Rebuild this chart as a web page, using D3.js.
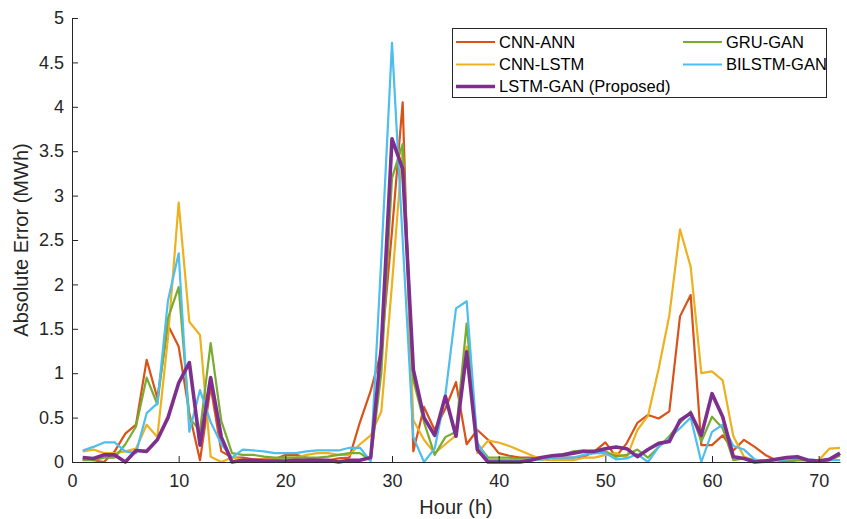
<!DOCTYPE html>
<html>
<head>
<meta charset="utf-8">
<script src="https://cdn.jsdelivr.net/npm/d3@7"></script>
<style>
  html, body { margin: 0; padding: 0; background: #fff; }
  svg { display: block; font-family: "Liberation Sans", Arial, Helvetica, sans-serif; }
</style>
</head>
<body>
<svg id="chart" width="847" height="519"></svg>
<script>
// Hourly absolute forecast error (MWh) for each model, hours 1..72
const hours = d3.range(1, 73);

const cnnAnn = [
  0.03, 0.02, 0.00, 0.12, 0.32, 0.42, 1.15, 0.72, 1.54, 1.30,
  0.55, 0.02, 0.85, 0.12, 0.05, 0.05, 0.03, 0.03, 0.03, 0.08,
  0.08, 0.05, 0.03, 0.02, 0.04, 0.05, 0.45, 0.80, 1.25, 2.60,
  4.05, 0.12, 0.62, 0.36, 0.60, 0.90, 0.20, 0.36, 0.25, 0.10,
  0.07, 0.05, 0.05, 0.05, 0.05, 0.05, 0.05, 0.06, 0.12, 0.22,
  0.06, 0.21, 0.44, 0.53, 0.49, 0.57, 1.64, 1.88, 0.19, 0.19,
  0.30, 0.13, 0.25, 0.17, 0.08, 0.02, 0.00, 0.02, 0.02, 0.00,
  0.02, 0.09
];

const cnnLstm = [
  0.12, 0.14, 0.10, 0.10, 0.12, 0.15, 0.42, 0.28, 1.40, 2.92,
  1.58, 1.43, 0.06, 0.00, 0.05, 0.03, 0.02, 0.02, 0.03, 0.05,
  0.05, 0.08, 0.10, 0.10, 0.08, 0.08, 0.20, 0.30, 0.57, 2.00,
  3.55, 0.47, 0.25, 0.10, 0.20, 0.30, 1.30, 0.10, 0.24, 0.22,
  0.18, 0.13, 0.08, 0.03, 0.02, 0.02, 0.02, 0.05, 0.05, 0.08,
  0.10, 0.05, 0.36, 0.52, 1.05, 1.65, 2.62, 2.20, 1.00, 1.02,
  0.92, 0.29, 0.06, 0.02, 0.02, 0.02, 0.02, 0.02, 0.02, 0.02,
  0.15, 0.16
];

const gruGan = [
  0.02, 0.02, 0.05, 0.05, 0.20, 0.40, 0.95, 0.65, 1.62, 1.97,
  0.50, 0.35, 1.34, 0.46, 0.10, 0.08, 0.08, 0.06, 0.05, 0.05,
  0.05, 0.05, 0.05, 0.06, 0.08, 0.10, 0.10, 0.02, 1.00, 3.20,
  3.58, 0.92, 0.45, 0.08, 0.28, 0.34, 1.56, 0.20, 0.05, 0.05,
  0.05, 0.03, 0.03, 0.03, 0.05, 0.08, 0.12, 0.13, 0.10, 0.12,
  0.06, 0.08, 0.14, 0.05, 0.17, 0.29, 0.44, 0.57, 0.23, 0.51,
  0.38, 0.02, 0.04, 0.02, 0.02, 0.02, 0.02, 0.02, 0.02, 0.01,
  0.02, 0.07
];

const bilstmGan = [
  0.13, 0.17, 0.22, 0.22, 0.12, 0.10, 0.55, 0.66, 1.82, 2.35,
  0.34, 0.81, 0.45, 0.20, 0.05, 0.14, 0.13, 0.12, 0.10, 0.10,
  0.10, 0.12, 0.13, 0.13, 0.13, 0.16, 0.16, 0.01, 2.30, 4.72,
  2.50, 0.28, 0.00, 0.15, 0.75, 1.73, 1.81, 0.22, 0.02, 0.02,
  0.02, 0.02, 0.03, 0.03, 0.05, 0.05, 0.05, 0.08, 0.10, 0.10,
  0.03, 0.04, 0.09, 0.00, 0.17, 0.27, 0.38, 0.50, 0.00, 0.34,
  0.42, 0.18, 0.14, 0.03, 0.00, 0.02, 0.03, 0.05, 0.03, 0.02,
  0.02, 0.02
];

const lstmGan = [
  0.05, 0.04, 0.08, 0.08, 0.00, 0.13, 0.12, 0.25, 0.50, 0.89,
  1.12, 0.19, 0.95, 0.28, 0.00, 0.02, 0.02, 0.01, 0.01, 0.01,
  0.02, 0.02, 0.02, 0.02, 0.00, 0.02, 0.02, 0.05, 1.30, 3.64,
  3.30, 1.04, 0.50, 0.30, 0.74, 0.29, 1.24, 0.14, 0.00, 0.00,
  0.00, 0.00, 0.02, 0.05, 0.07, 0.08, 0.10, 0.12, 0.12, 0.15,
  0.17, 0.15, 0.06, 0.14, 0.21, 0.23, 0.47, 0.55, 0.30, 0.77,
  0.51, 0.06, 0.04, 0.00, 0.01, 0.03, 0.05, 0.06, 0.02, 0.01,
  0.03, 0.10
];

const xTicks = [0, 10, 20, 30, 40, 50, 60, 70];
const yTicks = [0, 0.5, 1, 1.5, 2, 2.5, 3, 3.5, 4, 4.5, 5];

// Drawing order: thin lines first, the proposed model on top
const series = [
  { name: "CNN-ANN", values: cnnAnn, color: "#D95319", width: 2.2 },
  { name: "CNN-LSTM", values: cnnLstm, color: "#EDB120", width: 2.2 },
  { name: "GRU-GAN", values: gruGan, color: "#77AC30", width: 2.2 },
  { name: "BILSTM-GAN", values: bilstmGan, color: "#4DBEEE", width: 2.2 },
  { name: "LSTM-GAN (Proposed)", values: lstmGan, color: "#7E2F8E", width: 3.6 }
];

const svg = d3.select("#chart");
const margin = { left: 72, right: 7, top: 18, bottom: 57 };
const W = 847, H = 519;

const x = d3.scaleLinear().domain([0, 72]).range([margin.left, W - margin.right]);
const y = d3.scaleLinear().domain([0, 5]).range([H - margin.bottom, margin.top]);

const axisColor = "#262626";

// Series lines
const line = d3.line()
  .x((d, i) => x(hours[i]))
  .y(d => y(d));

const plot = svg.append("g");
series.forEach(s => {
  plot.append("path")
    .datum(s.values)
    .attr("fill", "none")
    .attr("stroke", s.color)
    .attr("stroke-width", s.width)
    .attr("stroke-linejoin", "round")
    .attr("d", line);
});

// Axes with inward ticks
const xAxis = svg.append("g")
  .attr("transform", `translate(0,${y(0)})`)
  .call(d3.axisBottom(x).tickValues(xTicks).tickSizeInner(-6).tickSizeOuter(0).tickPadding(12));
const yAxis = svg.append("g")
  .attr("transform", `translate(${x(0)},0)`)
  .call(d3.axisLeft(y).tickValues(yTicks).tickSizeInner(-6).tickSizeOuter(0).tickPadding(8)
    .tickFormat(d3.format("")));

[xAxis, yAxis].forEach(a => {
  a.select(".domain").attr("stroke", axisColor).attr("stroke-width", 1);
  a.selectAll(".tick line").attr("stroke", axisColor).attr("stroke-width", 1);
  a.selectAll(".tick text")
    .attr("fill", axisColor)
    .style("font-size", "18px")
    .style("font-family", "'Liberation Sans', Arial, sans-serif");
});

// Axis titles
svg.append("text")
  .attr("x", (x(0) + x(72)) / 2)
  .attr("y", 514)
  .attr("text-anchor", "middle")
  .attr("fill", axisColor)
  .style("font-size", "20px")
  .text("Hour (h)");

svg.append("text")
  .attr("transform", `translate(28,${(y(0) + y(5)) / 2}) rotate(-90)`)
  .attr("text-anchor", "middle")
  .attr("fill", axisColor)
  .style("font-size", "20px")
  .text("Absolute Error (MWh)");

// Legend
const legend = svg.append("g");
legend.append("rect")
  .attr("x", 452.5).attr("y", 28.5)
  .attr("width", 374).attr("height", 69)
  .attr("fill", "#fff")
  .attr("stroke", axisColor)
  .attr("stroke-width", 1);

const legendOrder = [
  { s: series[0], col: 0, row: 0 },
  { s: series[2], col: 1, row: 0 },
  { s: series[1], col: 0, row: 1 },
  { s: series[3], col: 1, row: 1 },
  { s: series[4], col: 0, row: 2 }
];
const colX = [456, 683];
const rowY = [42, 64.5, 86.5];
legendOrder.forEach(e => {
  const g = legend.append("g").attr("transform", `translate(${colX[e.col]},${rowY[e.row]})`);
  g.append("line")
    .attr("x1", 0).attr("x2", 39)
    .attr("y1", 0).attr("y2", 0)
    .attr("stroke", e.s.color)
    .attr("stroke-width", e.s.width);
  g.append("text")
    .attr("x", 43).attr("y", 0)
    .attr("dy", "0.36em")
    .attr("fill", "#000")
    .style("font-size", "16.5px")
    .text(e.s.name);
});
</script>
</body>
</html>
